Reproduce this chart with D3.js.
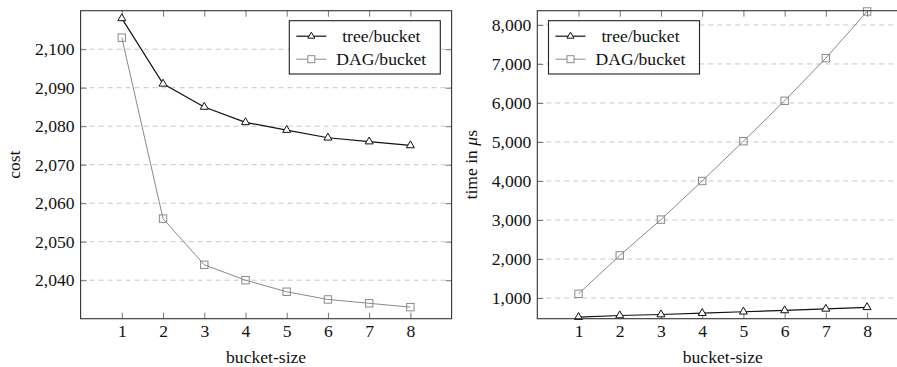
<!DOCTYPE html>
<html>
<head>
<meta charset="utf-8">
<script src="https://cdn.jsdelivr.net/npm/d3@7"></script>
<style>
  body { margin: 0; background: #fff; }
  svg { display: block; }
</style>
</head>
<body>
<svg id="chart" width="897" height="367"></svg>
<script>
// bucket sizes on the x axis
const bucketSizes = [1, 2, 3, 4, 5, 6, 7, 8];

// left panel: cost
const costTree = [2108, 2091, 2085, 2081, 2079, 2077, 2076, 2075];
const costDag  = [2103, 2056, 2044, 2040, 2037, 2035, 2034, 2033];
const costTicks = [2040, 2050, 2060, 2070, 2080, 2090, 2100];

// right panel: time in microseconds
const timeTree = [510, 552, 578, 612, 648, 682, 722, 762];
const timeDag  = [1108, 2092, 3010, 4000, 5020, 6055, 7150, 8345];
const timeTicks = [1000, 2000, 3000, 4000, 5000, 6000, 7000, 8000];

const seriesNames = ["tree/bucket", "DAG/bucket"];

const FONT = "'Liberation Serif'";
const FSIZE = "17.6px";

const svg = d3.select("#chart");
const fmt = d3.format(",");

function label(sel) {
  return sel.style("font-family", FONT).style("font-size", FSIZE).style("fill", "#111");
}

function panel(opts) {
  const x = d3.scaleLinear().domain([0, 9]).range([opts.left, opts.right]);
  const y = d3.scaleLinear().domain(opts.yDomain).range([opts.bottom, opts.top]);
  const g = svg.append("g");

  // dashed horizontal grid
  g.selectAll(".grid")
    .data(opts.yTicks)
    .join("line")
    .attr("x1", opts.left).attr("x2", opts.right)
    .attr("y1", d => y(d)).attr("y2", d => y(d))
    .style("stroke", "#c8c8c8")
    .style("stroke-width", 1)
    .style("stroke-dasharray", "5,4");

  // axes with inward ticks
  const xb = g.append("g").attr("transform", `translate(0,${opts.bottom})`)
    .call(d3.axisBottom(x).tickValues(bucketSizes).tickSize(-6).tickPadding(6));
  const xt = g.append("g").attr("transform", `translate(0,${opts.top})`)
    .call(d3.axisTop(x).tickValues(bucketSizes).tickSize(-6).tickFormat(""));
  const yl = g.append("g").attr("transform", `translate(${opts.left},0)`)
    .call(d3.axisLeft(y).tickValues(opts.yTicks).tickSize(-6).tickPadding(6).tickFormat(fmt));
  const yr = g.append("g").attr("transform", `translate(${opts.right},0)`)
    .call(d3.axisRight(y).tickValues(opts.yTicks).tickSize(-6).tickFormat(""));
  [xb, xt, yl, yr].forEach(a => {
    a.attr("font-family", null).attr("font-size", null);
    a.select(".domain").remove();
    a.selectAll(".tick line").style("stroke", "#777").style("stroke-width", 1);
    label(a.selectAll(".tick text"));
  });

  const line = d3.line().x((d, i) => x(bucketSizes[i])).y(d => y(d));

  // DAG series (gray, squares)
  g.append("path").datum(opts.dag)
    .attr("d", line)
    .style("fill", "none").style("stroke", "#8a8a8a").style("stroke-width", 1);
  g.selectAll(".sq")
    .data(opts.dag)
    .join("rect")
    .attr("x", (d, i) => x(bucketSizes[i]) - 3.7)
    .attr("y", d => y(d) - 3.7)
    .attr("width", 7.4).attr("height", 7.4)
    .style("fill", "none").style("stroke", "#8a8a8a").style("stroke-width", 1);

  // tree series (black, triangles)
  g.append("path").datum(opts.tree)
    .attr("d", line)
    .style("fill", "none").style("stroke", "#111").style("stroke-width", 1.2);
  g.selectAll(".tri")
    .data(opts.tree)
    .join("path")
    .attr("d", "M0,-4.6L4,2.3L-4,2.3Z")
    .attr("transform", (d, i) => `translate(${x(bucketSizes[i])},${y(d)})`)
    .style("fill", "#fff").style("stroke", "#111").style("stroke-width", 1);

  // frame
  g.append("rect")
    .attr("x", opts.left).attr("y", opts.top)
    .attr("width", opts.right - opts.left).attr("height", opts.bottom - opts.top)
    .style("fill", "none").style("stroke", "#333").style("stroke-width", 1.1);

  // axis labels
  label(g.append("text"))
    .attr("x", (opts.left + opts.right) / 2).attr("y", 363)
    .attr("text-anchor", "middle")
    .text("bucket-size");
  const yt = label(g.append("text"))
    .attr("transform", `translate(${opts.yLabelX},${(opts.top + opts.bottom) / 2}) rotate(-90)`)
    .attr("text-anchor", "middle");
  opts.yLabel(yt);

  // legend
  const lx = opts.legendX, ly = 20.7, lw = 151, lh = 53.3;
  const leg = g.append("g");
  leg.append("rect")
    .attr("x", lx).attr("y", ly).attr("width", lw).attr("height", lh)
    .style("fill", "#fff").style("stroke", "#222").style("stroke-width", 1.1);
  const rows = [
    {name: seriesNames[0], color: "#111", mark: "tri", cy: ly + 15.5},
    {name: seriesNames[1], color: "#8a8a8a", mark: "sq", cy: ly + 38.5}
  ];
  rows.forEach(r => {
    leg.append("line")
      .attr("x1", lx + 7).attr("x2", lx + 37)
      .attr("y1", r.cy).attr("y2", r.cy)
      .style("stroke", r.color).style("stroke-width", r.mark === "tri" ? 1.2 : 1);
    if (r.mark === "tri") {
      leg.append("path").attr("d", "M0,-4L3.5,2L-3.5,2Z")
        .attr("transform", `translate(${lx + 22},${r.cy})`)
        .style("fill", "#fff").style("stroke", r.color);
    } else {
      leg.append("rect").attr("x", lx + 22 - 3.5).attr("y", r.cy - 3.5)
        .attr("width", 7).attr("height", 7)
        .style("fill", "#fff").style("stroke", r.color);
    }
    label(leg.append("text"))
      .attr("x", lx + 92).attr("y", r.cy + 5.5)
      .attr("text-anchor", "middle")
      .text(r.name);
  });
}

panel({
  left: 80.6, right: 451.6, top: 10.7, bottom: 318.7,
  yDomain: [2030, 2110], yTicks: costTicks,
  tree: costTree, dag: costDag,
  legendX: 289.3, yLabelX: 20,
  yLabel: t => t.text("cost")
});

panel({
  left: 537.3, right: 908.3, top: 10.7, bottom: 318.7,
  yDomain: [470, 8365], yTicks: timeTicks,
  tree: timeTree, dag: timeDag,
  legendX: 548.5, yLabelX: 477,
  yLabel: t => {
    t.append("tspan").text("time in ");
    t.append("tspan").style("font-style", "italic").text("μ");
    t.append("tspan").text("s");
  }
});
</script>
</body>
</html>
